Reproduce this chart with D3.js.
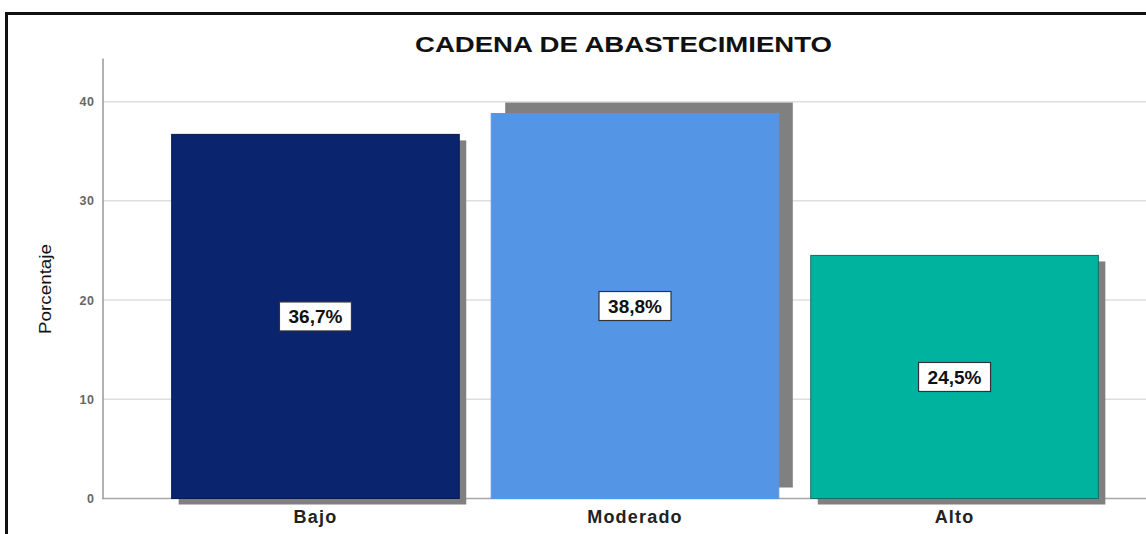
<!DOCTYPE html>
<html>
<head>
<meta charset="utf-8">
<script src="https://cdn.jsdelivr.net/npm/d3@7"></script>
<style>
  body { margin: 0; background: #fff; }
  svg { display: block; font-family: "Liberation Sans", Arial, sans-serif; }
</style>
</head>
<body>
<svg id="chart" width="1146" height="534"></svg>
<script>
let categories = ["Bajo", "Moderado", "Alto"];
let values = [36.7, 38.8, 24.5];
let labels = ["36,7%", "38,8%", "24,5%"];
let yTicks = [0, 10, 20, 30, 40];

let colors = ["#0a246e", "#5595e5", "#00b39f"];
let edges = ["#061a52", "#5595e5", "#0b6f63"];
// drop shadow offsets, the middle one sits up and to the right
let shadowOff = [[7, 6], [14, -11], [7, 6]];

const width = 1146, height = 534;
const svg = d3.select("#chart");

// frame
svg.append("path")
  .attr("d", "M6.5,534 V13.5 H1146")
  .attr("fill", "none")
  .attr("stroke", "#111")
  .attr("stroke-width", 3);

let y = d3.scaleLinear()
  .domain([0, 44.4])
  .range([498.5, 58]);

let x = d3.scaleBand()
  .domain(categories)
  .range([102, 1168])
  .paddingInner(0.1)
  .paddingOuter(0.218);

// grid
svg.append("g")
  .selectAll("line")
  .data(yTicks.filter(d => d > 0))
  .enter()
  .append("line")
  .attr("x1", 103)
  .attr("x2", width)
  .attr("y1", d => y(d))
  .attr("y2", d => y(d))
  .attr("stroke", "#dedede")
  .attr("stroke-width", 1.5);

// baseline
svg.append("line")
  .attr("x1", 102)
  .attr("x2", width)
  .attr("y1", y(0))
  .attr("y2", y(0))
  .attr("stroke", "#a8a8a8")
  .attr("stroke-width", 1.5);

let bars = svg.append("g")
  .selectAll("g")
  .data(values)
  .enter()
  .append("g");

bars.append("rect")
  .attr("x", (d, i) => x(categories[i]) + shadowOff[i][0])
  .attr("y", (d, i) => y(d) + shadowOff[i][1])
  .attr("width", x.bandwidth())
  .attr("height", d => y(0) - y(d))
  .attr("fill", "#808080");

bars.append("rect")
  .attr("x", (d, i) => x(categories[i]))
  .attr("y", d => y(d))
  .attr("width", x.bandwidth())
  .attr("height", d => y(0) - y(d))
  .attr("fill", (d, i) => colors[i])
  .attr("stroke", (d, i) => edges[i])
  .attr("stroke-width", 1);

// y axis
let yAxis = svg.append("g")
  .attr("transform", "translate(102.5,0)")
  .call(d3.axisLeft(y).tickValues(yTicks).tickSize(0).tickPadding(8));
yAxis.select(".domain").attr("stroke", "#999").attr("stroke-width", 1.5);
yAxis.selectAll("text")
  .attr("fill", "#666")
  .attr("font-size", 12.5)
  .attr("font-weight", "bold")
  .attr("letter-spacing", 0.5)
  .attr("font-family", "Liberation Sans, Arial, sans-serif");

// x labels
let xAxis = svg.append("g")
  .attr("transform", "translate(0," + y(0) + ")")
  .call(d3.axisBottom(x).tickSize(0).tickPadding(0));
xAxis.select(".domain").remove();
xAxis.selectAll("text")
  .attr("dy", 0)
  .attr("y", 24.5)
  .attr("fill", "#222")
  .attr("font-size", 18)
  .attr("font-weight", "bold")
  .attr("letter-spacing", 1.2)
  .attr("font-family", "Liberation Sans, Arial, sans-serif");

// value labels
let lab = bars.append("g")
  .attr("transform", (d, i) => "translate(" + (x(categories[i]) + x.bandwidth() / 2) + "," + y(d / 2) + ")");

lab.append("rect")
  .attr("x", -36)
  .attr("y", -14.5)
  .attr("width", 72)
  .attr("height", 29)
  .attr("fill", "#fff")
  .attr("stroke", "#333")
  .attr("stroke-width", 1.2);

lab.append("text")
  .attr("text-anchor", "middle")
  .attr("y", 7)
  .attr("font-size", 19)
  .attr("font-weight", "bold")
  .attr("fill", "#111")
  .text((d, i) => labels[i]);

// title
svg.append("text")
  .attr("x", 623.5)
  .attr("y", 51.5)
  .attr("text-anchor", "middle")
  .attr("font-size", 22)
  .attr("font-weight", "bold")
  .attr("fill", "#111")
  .attr("textLength", 417)
  .attr("lengthAdjust", "spacingAndGlyphs")
  .text("CADENA DE ABASTECIMIENTO");

// y title, narrow and tall as in the source
svg.append("text")
  .attr("transform", "translate(51,289) rotate(-90)")
  .attr("text-anchor", "middle")
  .attr("font-family", "Liberation Sans Narrow, Liberation Sans, Arial, sans-serif")
  .attr("font-size", 17)
  .attr("fill", "#111")
  .attr("textLength", 90)
  .attr("lengthAdjust", "spacingAndGlyphs")
  .text("Porcentaje");
</script>
</body>
</html>
